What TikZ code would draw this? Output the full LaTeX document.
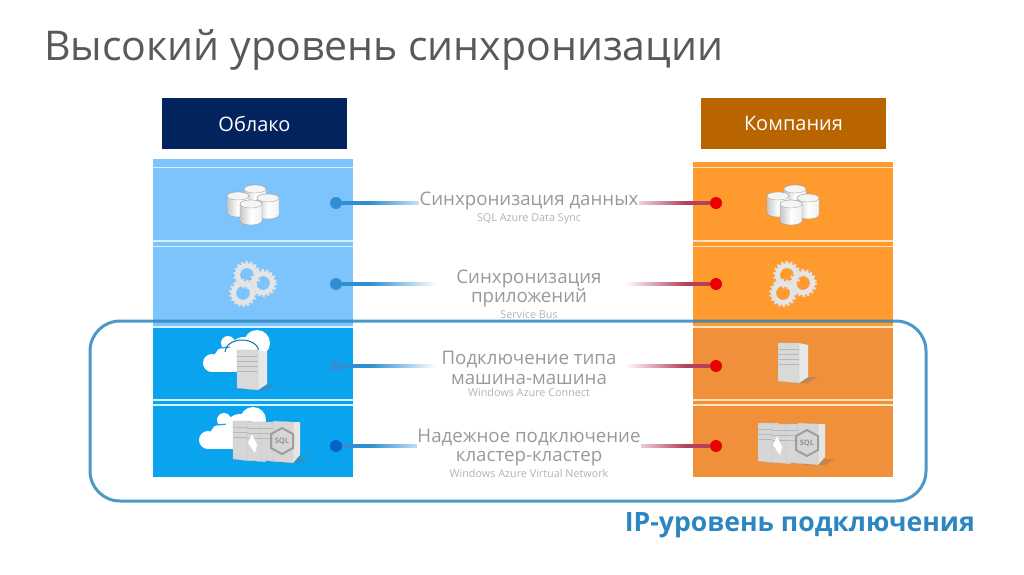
\documentclass[tikz,border=0pt]{standalone}
\usepackage{fontspec}
\setmainfont{Open Sans}
\usepackage{tikz}
\usetikzlibrary{positioning}
\usetikzlibrary{fadings}
\definecolor{cloudhead}{HTML}{03235F}
\definecolor{firmhead}{HTML}{B86500}
\definecolor{cloudtop}{HTML}{7CC4FB}
\definecolor{cloudlow}{HTML}{0AA3EE}
\definecolor{firmtop}{HTML}{FE9A2E}
\definecolor{firmlow}{HTML}{F0903A}
\definecolor{striplight}{HTML}{D2F0FF}
\definecolor{stripfirm}{HTML}{FFE3C0}
\definecolor{ringblue}{HTML}{2E86C1}
\definecolor{linkblue}{HTML}{2F8FD2}
\definecolor{linkred}{HTML}{B5405C}
\definecolor{iconedge}{HTML}{9A9A9A}
\tikzfading[name=fadeoff, left color=transparent!0, right color=transparent!100]
\tikzfading[name=fadeon, left color=transparent!100, right color=transparent!0]
\tikzset{
  header/.style={inner sep=0, minimum width=185, minimum height=51, text=white, font=\fontsize{20}{20}\selectfont},
  linkdot/.style={circle, inner sep=0, minimum size=12},
  linktext/.style={inner sep=0, text=black!40, align=center, font=\fontsize{18.7}{19.5}\selectfont},
  subtext/.style={inner sep=0, text=black!30, font=\fontsize{10.8}{11}\selectfont},
  % Both fades are 100 wide by default, so only the row has to be given.
  linkleft/.style={draw=linkblue, line width=4, path fading=fadeoff, fit fading=false, fading transform={shift={(403,#1)}, xscale=1.34}},
  linkright/.style={draw=linkred, line width=4, path fading=fadeon, fit fading=false, fading transform={shift={(655,#1)}, xscale=1.21}},
  dbcyl/.pic={
    \path[draw=iconedge, line width=0.4, left color=black!22, right color=black!6, middle color=white]
      (-11,0) -- (-11,17) arc[start angle=180, end angle=360, x radius=11, y radius=-4]
      -- (11,0) arc[start angle=0, end angle=180, x radius=11, y radius=-4] -- cycle;
    \path[draw=iconedge, line width=0.3, fill=black!4] (0,0) ellipse[x radius=11, y radius=4];
  },
  dbstack/.pic={
    \pic at (2,-15) {dbcyl};
    \pic at (-15,-8) {dbcyl};
    \pic at (15,-6) {dbcyl};
    \pic at (-2,0) {dbcyl};
  },
  onegear/.pic={
    \draw[white!88!black, line width=3, dash pattern=on 2.2 off 2.2] (0,0) circle[radius=12.5];
    \draw[white!90!black, line width=5] (0,0) circle[radius=9.5];
  },
  gears/.pic={
    \pic at (-5,-8) {onegear};
    \pic at (11,0) {onegear};
    \pic at (-9,10) {onegear};
  },
  server/.pic={
    \path[fill=black!55, opacity=0.35] (4,20) -- (15,20) -- (24,14) -- (15,14) -- cycle;
    \path[fill=black!9] (6,-20) -- (15,-18) -- (15,14) -- (6,20) -- cycle;
    \path[fill=black!15, draw=black!25, line width=0.3] (-15,-20) -- (6,-20) -- (6,20) -- (-15,18) -- cycle;
    \draw[black!28, line width=0.5] (-15,-14) -- (6,-14) (-15,-9) -- (6,-9) (-15,-4) -- (6,-4) (-15,1) -- (6,1);
  },
  sqlbox/.pic={
    \path[fill=black!10] (9,-19) -- (13,-18) -- (13,17) -- (9,21) -- cycle;
    \path[fill=black!16, draw=black!28, line width=0.3] (-9,-19) -- (9,-19) -- (9,21) -- (-9,19) -- cycle;
    \draw[black!28, line width=0.5] (-9,-13) -- (9,-13) (-9,-8) -- (9,-8) (-9,-3) -- (9,-3);
  },
  cluster/.pic={
    \path[fill=black!55, opacity=0.35] (10,22) -- (34,22) -- (44,16) -- (30,16) -- cycle;
    \pic at (-24,-1) {sqlbox};
    \pic at (-10,0) {sqlbox};
    \pic at (4,0) {sqlbox};
    \path[fill=black!10] (27,-19) -- (34,-19) -- (34,14) -- (27,22) -- cycle;
    \path[fill=black!16, draw=black!28, line width=0.3] (7,-20) -- (27,-19) -- (27,22) -- (7,20) -- cycle;
    \path[fill=white] (-14,-7) -- (-9,4) -- (-11,12) -- (-18,2) -- cycle;
    \draw[black!38, line width=2] (16,-13) -- (27,-7) -- (27,7) -- (16,13) -- (5,7) -- (5,-7) -- cycle;
    \node[inner sep=0, text=black!42, font=\fontsize{7.5}{7.5}\selectfont\bfseries] (sqltag) at (16,0) {SQL};
  },
  cloudshape/.pic={
    \fill[white] (-26,5) circle[radius=9];
    \fill[white] (-11,1) circle[radius=13];
    \fill[white] (-10,-15) circle[radius=7];
    \draw[cloudlow, line width=1.2] (-19,-10) -- (-4,-11);
    \fill[white] (19,-15) circle[radius=13];
    \fill[white] (6,-6) circle[radius=15];
    \fill[white] (-26,1) rectangle (26,14);
  },
}
\begin{document}
\begin{tikzpicture}[x=1pt, y=-1pt]
        \useasboundingbox (0,0) rectangle (1024,574);
        \node[anchor=base west, inner sep=0, text=black!65, font=\fontsize{41}{41}\selectfont] (heading) at (44,60) {Высокий уровень синхронизации};
        \node[header, fill=cloudhead] (cloudtitle) at (254.5,123.5) {Облако};
        \node[header, fill=firmhead] (firmtitle) at (793.5,123.5) {Компания};
        % Columns.
        \fill[cloudtop] (153,159) rectangle (353,326);
        \fill[cloudlow] (153,326) rectangle (353,477);
        \fill[firmtop] (693,162) rectangle (893,326);
        \fill[firmlow] (693,326) rectangle (893,477);
        \draw[striplight, line width=1.2] (153,167.5) -- (353,167.5) (153,241) -- (353,241) (153,246.5) -- (353,246.5) (153,327) -- (353,327) (153,400) -- (353,400) (153,405) -- (353,405);
        \draw[stripfirm, line width=1.2] (693,167.5) -- (893,167.5) (693,241) -- (893,241) (693,246.5) -- (893,246.5) (693,327) -- (893,327) (693,400) -- (893,400) (693,405) -- (893,405);
        % Icons.
        \pic at (253,204) {dbstack};
        \pic at (793,204) {dbstack};
        \pic at (252,283) {gears};
        \pic at (792,283) {gears};
        \pic at (238,358) {cloudshape};
        \draw[cloudlow!70!black, line width=1] (225,352) arc[start angle=180, end angle=360, x radius=17, y radius=12];
        \pic at (252,370) {server};
        \pic at (793,363) {server};
        \pic at (234,435) {cloudshape};
        \pic at (266,441) {cluster};
        \pic at (791,443) {cluster};
        % Row labels.
        \node[linktext] (synca) at (529,201) {Синхронизация данных};
        \node[subtext, below=3pt of synca] (syncasub) {SQL Azure Data Sync};
        \node[linktext] (syncb) at (529,288.5) {Синхронизация\\приложений};
        \node[subtext, below=3pt of syncb] (syncbsub) {Service Bus};
        \node[linktext] (syncc) at (529,368) {Подключение типа\\машина-машина};
        \node[subtext, below=3pt of syncc] (synccsub) {Windows Azure Connect};
        \node[linktext] (syncd) at (529,447.5) {Надежное подключение\\кластер-кластер};
        \node[subtext, below=3pt of syncd] (syncdsub) {Windows Azure Virtual Network};
        % Dots and links.
        \node[linkdot, fill=linkblue] (cloudA) at (336,203) {};
        \node[linkdot, fill=linkblue] (cloudB) at (336,284) {};
        \node[linkdot, fill=linkblue!80!cloudlow] (cloudC) at (336,366) {};
        \node[linkdot, fill=blue!30!cloudlow!85!black] (cloudD) at (336,446) {};
        \node[linkdot, fill=red!92!black] (firmA) at (716,203) {};
        \node[linkdot, fill=red!92!black] (firmB) at (716,284) {};
        \node[linkdot, fill=red!92!black] (firmC) at (716,366) {};
        \node[linkdot, fill=red!92!black] (firmD) at (716,446) {};
        \draw[linkleft=203] (cloudA) -- (cloudA -| synca.west);
        \draw[linkleft=284] (cloudB) -- (cloudB -| syncb.west);
        \draw[linkleft=366] (cloudC) -- (cloudC -| syncc.west);
        \draw[linkleft=446] (cloudD) -- (cloudD -| syncd.west);
        \draw[linkright=203] (firmA -| synca.east) -- (firmA);
        \draw[linkright=284] (firmB -| syncb.east) -- (firmB);
        \draw[linkright=366] (firmC -| syncc.east) -- (firmC);
        \draw[linkright=446] (firmD -| syncd.east) -- (firmD);
        % Ring round the two lower rows.
        \draw[ringblue, line width=3, rounded corners=30, draw opacity=0.85] (90,321) rectangle (926,501);
        \node[anchor=base east, inner sep=0, text=ringblue, font=\fontsize{26.6}{26.6}\selectfont\bfseries] (iplevel) at (975,531) {IP-уровень подключения};
    \end{tikzpicture}
\end{document}
